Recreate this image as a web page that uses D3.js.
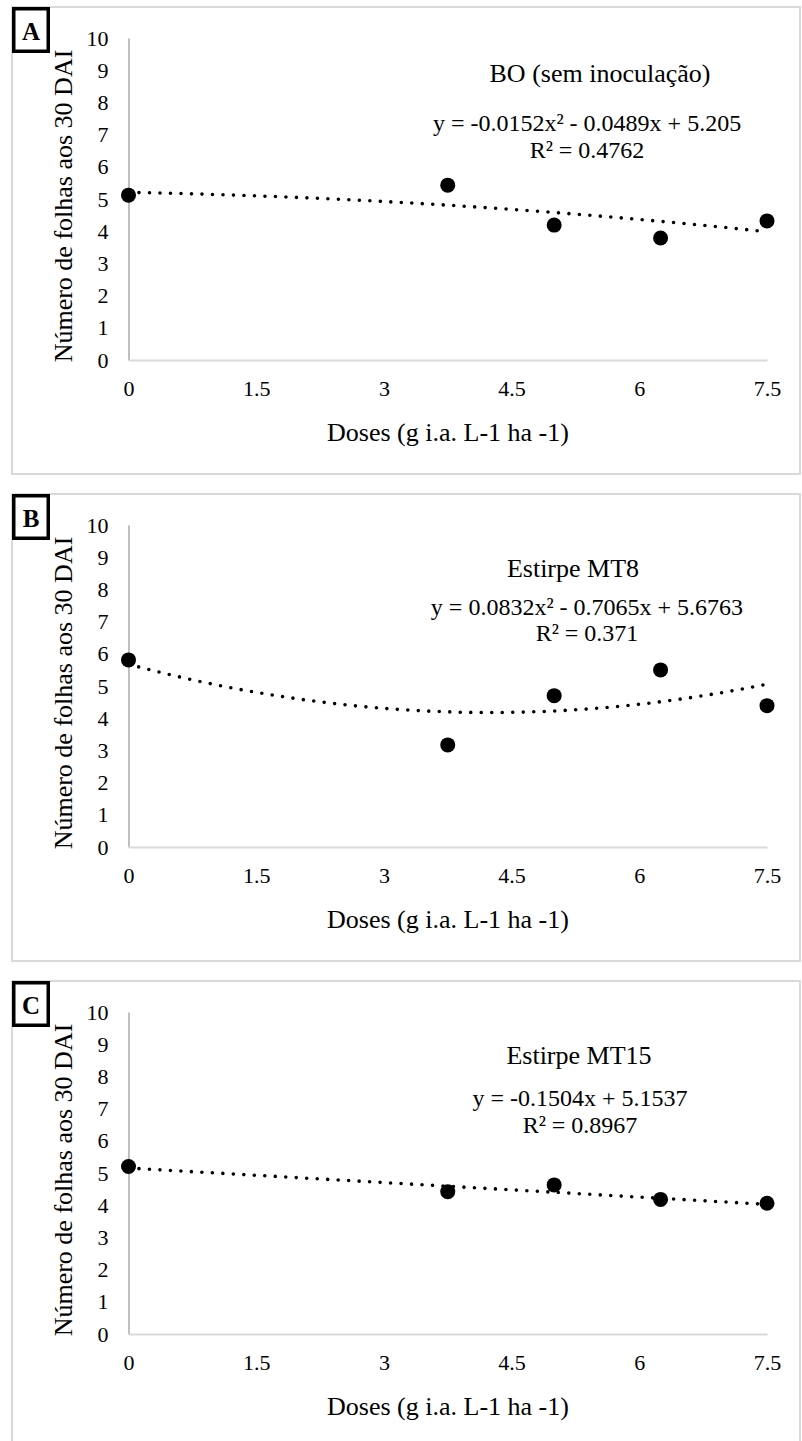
<!DOCTYPE html>
<html>
<head>
<meta charset="utf-8">
<script src="https://cdn.jsdelivr.net/npm/d3@7"></script>
<style>
  html, body { margin: 0; padding: 0; background: #fff; }
  svg { display: block; }
  text { font-family: "Liberation Serif", "Times New Roman", serif; fill: #000; }
</style>
</head>
<body>
<div id="chart"></div>
<script>
// Doses applied (g i.a. L-1 ha -1)
const doses = [0, 3.75, 5, 6.25, 7.5];
const xTicks = [0, 1.5, 3, 4.5, 6, 7.5];
const yTicks = [0, 1, 2, 3, 4, 5, 6, 7, 8, 9, 10];

// Leaf counts at 30 DAI, one array per treatment
const valuesBO = [5.12, 5.43, 4.19, 3.79, 4.32];
const valuesMT8 = [5.81, 3.17, 4.70, 5.50, 4.39];
const valuesMT15 = [5.20, 4.42, 4.63, 4.18, 4.06];

const panelLetters = ["A", "B", "C"];
const panelTitles = ["BO (sem inoculação)", "Estirpe MT8", "Estirpe MT15"];
const equationLabels = [
  "y = -0.0152x² - 0.0489x + 5.205",
  "y = 0.0832x² - 0.7065x + 5.6763",
  "y = -0.1504x + 5.1537"
];
const r2Labels = ["R² = 0.4762", "R² = 0.371", "R² = 0.8967"];
// Trend coefficients [a, b, c] for y = a·x² + b·x + c
const trendCoefs = [
  [-0.0152, -0.0489, 5.205],
  [0.0832, -0.7065, 5.6763],
  [0, -0.1504, 5.1537]
];
const seriesValues = [valuesBO, valuesMT8, valuesMT15];

const W = 802, H = 1441;
const panelPitch = 487;
const panelHeight = 467;
const boxLeft = 12, boxRight = 800;
const plotLeft = 128.5, plotRight = 767;
const plotTopOff = 31, plotBottomOff = 353;

// per-panel vertical offsets of the titles
const titleY = [66, 74, 74];
const eqY = [116, 113, 117];
const r2Y = [143, 139, 144];
const titleX = [600, 573, 579];
const eqX = [587, 587, 580];

const svg = d3.select("#chart").append("svg")
  .attr("width", W).attr("height", H);
svg.append("rect").attr("width", W).attr("height", H).attr("fill", "#fff");

const x = d3.scaleLinear().domain([0, 7.5]).range([plotLeft, plotRight]);

panelLetters.forEach((letter, i) => {
  const T = 7 + i * panelPitch;
  const g = svg.append("g");
  const y = d3.scaleLinear().domain([0, 10]).range([T + plotBottomOff, T + plotTopOff]);

  // panel frame
  g.append("rect")
    .attr("x", boxLeft).attr("y", T)
    .attr("width", boxRight - boxLeft).attr("height", panelHeight)
    .attr("fill", "none").attr("stroke", "#d9d9d9").attr("stroke-width", 2);

  // y axis
  const yAxis = d3.axisLeft(y).tickValues(yTicks).tickSize(0).tickPadding(20)
    .tickFormat(d3.format("d"));
  const ya = g.append("g").attr("transform", `translate(${plotLeft},0)`).call(yAxis);
  ya.select(".domain").attr("stroke", "#bfbfbf").attr("stroke-width", 2);
  ya.selectAll("text").attr("font-size", 22).attr("font-family", "Liberation Serif");

  // x axis
  const xAxis = d3.axisBottom(x).tickValues(xTicks).tickSize(0).tickPadding(20)
    .tickFormat(d => d3.format("")(d));
  const xa = g.append("g").attr("transform", `translate(0,${y(0)})`).call(xAxis);
  xa.select(".domain").attr("stroke", "#d9d9d9").attr("stroke-width", 2);
  xa.selectAll("text").attr("font-size", 22).attr("font-family", "Liberation Serif");

  // axis titles
  g.append("text")
    .attr("transform", `translate(72,${T + 199}) rotate(-90)`)
    .attr("text-anchor", "middle")
    .attr("font-size", 26)
    .text("Número de folhas aos 30 DAI");

  g.append("text")
    .attr("x", 448).attr("y", T + 425 + 9)
    .attr("text-anchor", "middle")
    .attr("font-size", 26)
    .text("Doses (g i.a. L-1 ha -1)");

  // trend line drawn from the stated equation
  const [a, b, c] = trendCoefs[i];
  const trendX = d3.range(0, 7.5001, 0.05);
  const line = d3.line().x(d => x(d)).y(d => y(a * d * d + b * d + c));
  g.append("path")
    .attr("d", line(trendX))
    .attr("fill", "none")
    .attr("stroke", "#000")
    .attr("stroke-width", 3.6)
    .attr("stroke-linecap", "round")
    .attr("stroke-dasharray", "0 10.5");

  // observed points
  g.selectAll("circle.pt")
    .data(doses.map((d, k) => ({ dose: d, v: seriesValues[i][k] })))
    .join("circle")
    .attr("class", "pt")
    .attr("cx", d => x(d.dose))
    .attr("cy", d => y(d.v))
    .attr("r", 7.5)
    .attr("fill", "#000");

  // titles and equation
  g.append("text")
    .attr("x", titleX[i]).attr("y", T + titleY[i] + 9)
    .attr("text-anchor", "middle").attr("font-size", 26)
    .text(panelTitles[i]);
  g.append("text")
    .attr("x", eqX[i]).attr("y", T + eqY[i] + 8)
    .attr("text-anchor", "middle").attr("font-size", 24)
    .text(equationLabels[i]);
  g.append("text")
    .attr("x", eqX[i]).attr("y", T + r2Y[i] + 8)
    .attr("text-anchor", "middle").attr("font-size", 24)
    .text(r2Labels[i]);

  // panel letter box
  g.append("rect")
    .attr("x", 13.75).attr("y", T + 1.75)
    .attr("width", 34.5).attr("height", 42.5)
    .attr("fill", "#fff").attr("stroke", "#000").attr("stroke-width", 3.5);
  g.append("text")
    .attr("x", 31).attr("y", T + 33)
    .attr("text-anchor", "middle")
    .attr("font-size", 25).attr("font-weight", "bold")
    .text(letter);
});
</script>
</body>
</html>
